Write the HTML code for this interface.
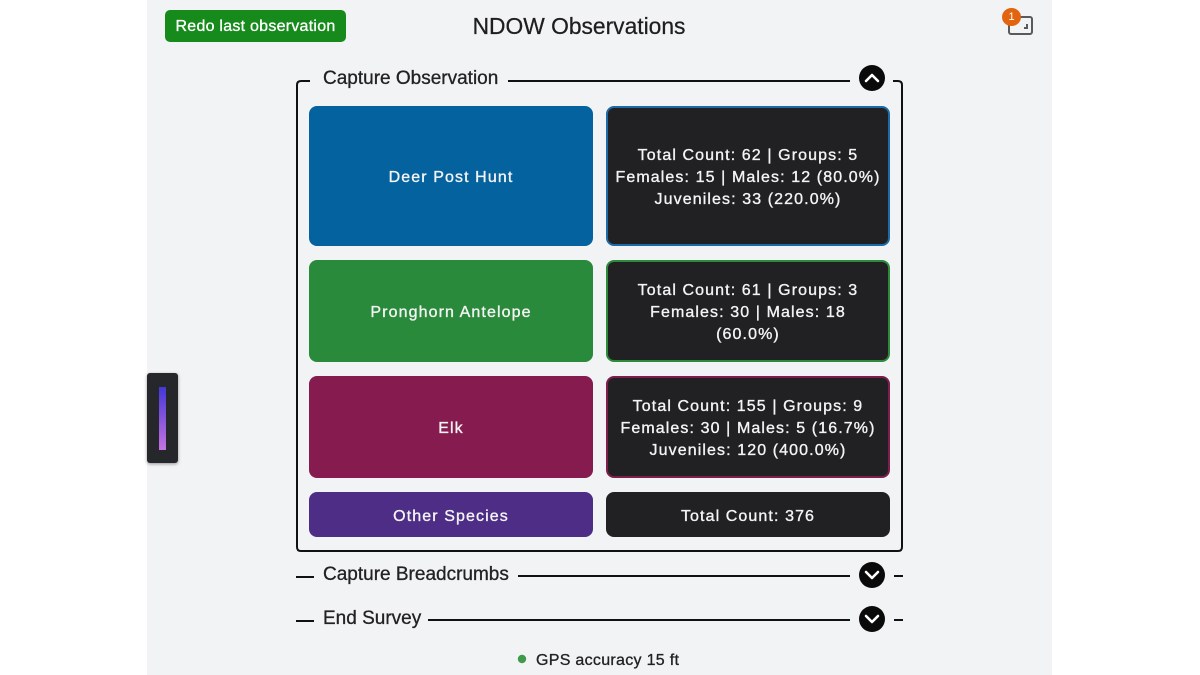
<!DOCTYPE html>
<html><head><meta charset="utf-8">
<style>
*{margin:0;padding:0;box-sizing:border-box}
html,body{width:1200px;height:675px;background:#fff;overflow:hidden;font-family:"Liberation Sans",sans-serif}
.page{position:absolute;left:147px;top:0;width:905px;height:675px;background:#f2f3f5}
.abs{position:absolute}
.redo{left:165px;top:10px;width:181px;height:32px;background:#178a1c;border-radius:5px;color:#fff;font-size:16px;line-height:33px;text-align:center;letter-spacing:0.25px;-webkit-text-stroke:0.3px #fff}
.title{left:400px;top:11px;width:358px;text-align:center;font-size:22.8px;color:#1e1e1e;line-height:30px;-webkit-text-stroke:0.25px #1e1e1e}
.tile{position:absolute;border-radius:8px;color:#f4f4f4;font-size:16px;letter-spacing:1.1px;display:flex;align-items:center;justify-content:center;text-align:center;line-height:22px;padding-top:4px;-webkit-text-stroke:0.35px #f4f4f4}
.dark{background:#212124;border:2px solid #222}
.hdr{font-size:19px;color:#222;line-height:22px;-webkit-text-stroke:0.3px #222}
.line{position:absolute;height:2px;background:#111}
</style></head><body>
<div class="page"></div>
<div class="abs redo">Redo last observation</div>
<div class="abs title">NDOW Observations</div>

<!-- top-right icon -->
<div class="abs" style="left:1008px;top:16px;width:25px;height:19px;border:2px solid #5a5a5a;border-radius:3px"></div>
<div class="abs" style="left:1024px;top:24px;width:4px;height:5px;border-right:2px solid #5a5a5a;border-bottom:2px solid #5a5a5a"></div>
<div class="abs" style="left:1002px;top:8px;width:19px;height:18px;border-radius:50%;background:#e2640f;color:#fff;font-size:11px;line-height:18px;text-align:center">1</div>

<!-- left handle -->
<div class="abs" style="left:147px;top:373px;width:31px;height:90px;background:#26272a;border-radius:3px;box-shadow:0 1px 3px rgba(0,0,0,.4)"></div>
<div class="abs" style="left:159px;top:387px;width:7px;height:63px;background:linear-gradient(#4437d6,#c673e0)"></div>

<!-- fieldset lines -->
<svg class="abs" style="left:0;top:0" width="1200" height="675">
  <path d="M310 81 H301 Q297 81 297 85 V547 Q297 551 301 551 H898 Q902 551 902 547 V85 Q902 81 898 81 H893" fill="none" stroke="#111" stroke-width="2"/>
  <line x1="508" y1="81" x2="850" y2="81" stroke="#111" stroke-width="2"/>
  <line x1="296" y1="577" x2="314" y2="577" stroke="#111" stroke-width="2"/>
  <line x1="518" y1="576" x2="850" y2="576" stroke="#111" stroke-width="2"/>
  <line x1="894" y1="576" x2="903" y2="576" stroke="#111" stroke-width="2"/>
  <line x1="296" y1="621" x2="314" y2="621" stroke="#111" stroke-width="2"/>
  <line x1="428" y1="620" x2="850" y2="620" stroke="#111" stroke-width="2"/>
  <line x1="894" y1="620" x2="903" y2="620" stroke="#111" stroke-width="2"/>
  <circle cx="872" cy="78" r="13" fill="#0a0a0a"/>
  <path d="M866 81 L872 75 L878 81" fill="none" stroke="#fff" stroke-width="2.6" stroke-linecap="round" stroke-linejoin="round"/>
  <circle cx="872" cy="575" r="13" fill="#0a0a0a"/>
  <path d="M866 572 L872 578 L878 572" fill="none" stroke="#fff" stroke-width="2.6" stroke-linecap="round" stroke-linejoin="round"/>
  <circle cx="872" cy="619" r="13" fill="#0a0a0a"/>
  <path d="M866 616 L872 622 L878 616" fill="none" stroke="#fff" stroke-width="2.6" stroke-linecap="round" stroke-linejoin="round"/>
  <circle cx="522" cy="659" r="4.2" fill="#3f9a4c"/>
</svg>

<div class="abs hdr" style="left:323px;top:68px">Capture Observation</div>
<div class="abs hdr" style="left:323px;top:564px">Capture Breadcrumbs</div>
<div class="abs hdr" style="left:323px;top:608px">End Survey</div>
<div class="abs" style="left:536px;top:651px;font-size:16px;color:#222;line-height:20px;letter-spacing:0.3px;-webkit-text-stroke:0.3px #222">GPS accuracy 15 ft</div>

<!-- tiles -->
<div class="tile" style="left:309px;top:106px;width:284px;height:140px;background:#04629f">Deer Post Hunt</div>
<div class="tile dark" style="left:606px;top:106px;width:284px;height:140px;border-color:#1d6aa6">Total Count: 62 | Groups: 5<br>Females: 15 | Males: 12 (80.0%)<br>Juveniles: 33 (220.0%)</div>

<div class="tile" style="left:309px;top:260px;width:284px;height:102px;background:#2a8a3b">Pronghorn Antelope</div>
<div class="tile dark" style="left:606px;top:260px;width:284px;height:102px;border-color:#2e8a3b">Total Count: 61 | Groups: 3<br>Females: 30 | Males: 18<br>(60.0%)</div>

<div class="tile" style="left:309px;top:376px;width:284px;height:102px;background:#861b4f">Elk</div>
<div class="tile dark" style="left:606px;top:376px;width:284px;height:102px;border-color:#7d1e4d">Total Count: 155 | Groups: 9<br>Females: 30 | Males: 5 (16.7%)<br>Juveniles: 120 (400.0%)</div>

<div class="tile" style="left:309px;top:492px;width:284px;height:45px;background:#4e2d86">Other Species</div>
<div class="tile" style="left:606px;top:492px;width:284px;height:45px;background:#212124">Total Count: 376</div>
</body></html>
